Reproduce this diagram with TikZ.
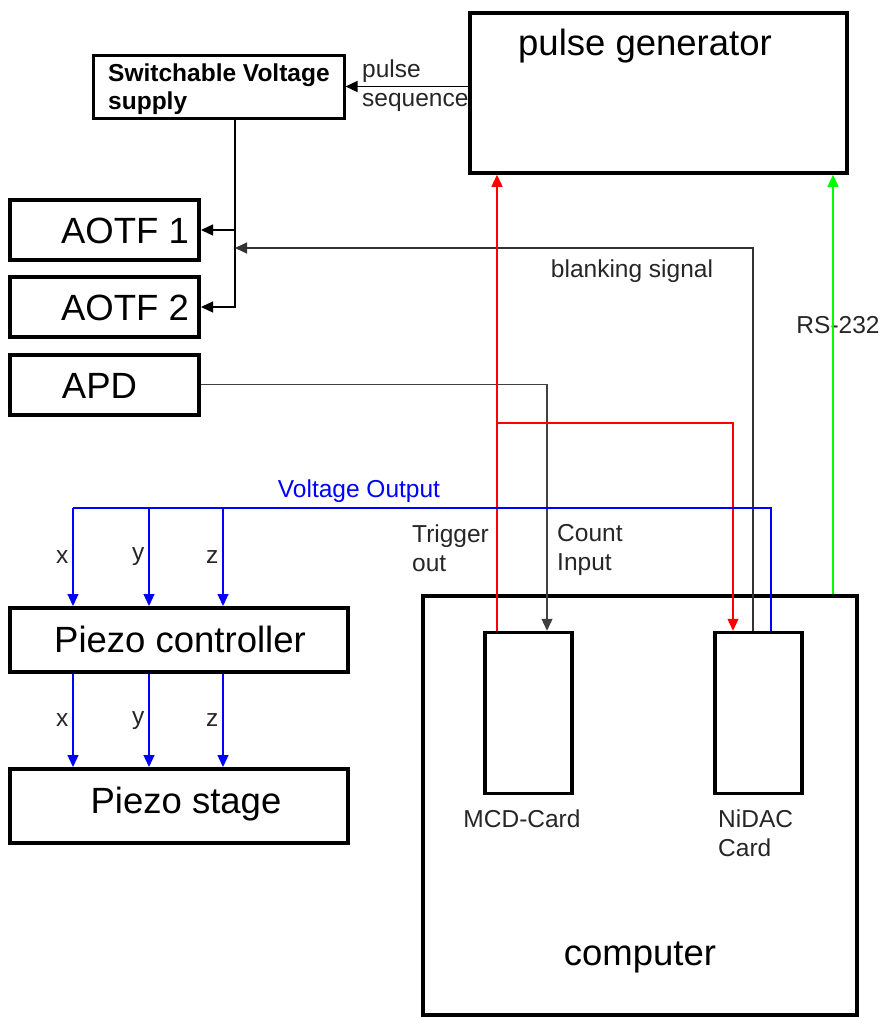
\documentclass[tikz,border=0pt]{standalone}
\usepackage{fontspec}
\setmainfont{Liberation Sans}
\usetikzlibrary{arrows.meta}

\begin{document}
\begin{tikzpicture}[x=1pt, y=-1pt,
  >={Triangle[length=12pt, width=11pt]},
  box/.style={draw, line width=3.5pt, inner sep=0pt},
  big/.style={font=\fontsize{36.5}{40}\selectfont, inner sep=0pt},
  small/.style={font=\fontsize{24.5}{28.5}\selectfont, text=black!85, inner sep=0pt},
  wire/.style={line width=1.3pt}]

  \useasboundingbox (0,0) rectangle (885,1017);

  % -- Boxes --
  \node[box, line width=3pt, minimum width=251pt, minimum height=63pt] (svs) at (218.5,86.5) {};
  \node[box, minimum width=377pt, minimum height=160pt] (pulsegen) at (658.5,93) {};
  \node[box, line width=4pt, minimum width=189pt, minimum height=60pt] (aotf1) at (104.5,230) {};
  \node[box, line width=4pt, minimum width=189pt, minimum height=60pt] (aotf2) at (104.5,307) {};
  \node[box, line width=4pt, minimum width=189pt, minimum height=60pt] (apd) at (104.5,384.5) {};
  \node[box, line width=4pt, minimum width=338pt, minimum height=64pt] (pc) at (179,640) {};
  \node[box, line width=4pt, minimum width=338pt, minimum height=74pt] (ps) at (179,806) {};
  \node[box, minimum width=434pt, minimum height=419pt] (computer) at (640,805.5) {};
  \node[box, minimum width=87pt, minimum height=161pt] (mcd) at (528.5,713) {};
  \node[box, minimum width=87pt, minimum height=161pt] (nidac) at (758.5,713) {};

  % -- Box texts --
  \node[small, anchor=west, align=left, font=\fontsize{24.5}{28}\selectfont\bfseries, text=black] (svstxt) at (108,89.5) {Switchable Voltage\\supply};
  \node[big, anchor=base] (pgtxt) at (645,55) {pulse generator};
  \node[big, anchor=base] (aotf1txt) at (125,243) {AOTF 1};
  \node[big, anchor=base] (aotf2txt) at (125,320) {AOTF 2};
  \node[big, anchor=base] (apdtxt) at (99.5,398) {APD};
  \node[big, anchor=base] (pctxt) at (180,652) {Piezo controller};
  \node[big, anchor=base] (pstxt) at (186,813) {Piezo stage};
  \node[big, anchor=base] (comptxt) at (640,965) {computer};
  \node[small, anchor=base] (mcdtxt) at (522,827) {MCD-Card};
  \node[small, anchor=west, align=left] (nidactxt) at (718,833) {NiDAC\\Card};

  % -- Signal labels --
  \node[small, anchor=west, align=left] (pulsetxt) at (362,85.6) {pulse\\sequence};
  \node[small, anchor=base] (blanktxt) at (632,277) {blanking signal};
  \node[small, anchor=base] (rstxt) at (838,333) {RS-232};
  \node[small, anchor=base, text=blue] (volttxt) at (359,497) {Voltage Output};
  \node[small, anchor=west, align=left] (trigtxt) at (412,548) {Trigger\\out};
  \node[small, anchor=west, align=left] (counttxt) at (557,550) {Count\\Input};

  % -- Junction points --
  \coordinate (bus) at (235,0);
  \coordinate (blank) at (753,248);
  \coordinate (count) at (547,0);
  \coordinate (trig) at (497,0);
  \coordinate (split) at (497,423);
  \coordinate (redin) at (733,0);
  \coordinate (rs) at (833,0);
  \coordinate (vl) at (73,508);
  \coordinate (vr) at (771,508);

  % -- AOTF supply --
  \draw[wire, ->] (svs.east -| pulsegen.west) -- (svs.east);
  \draw[wire, ->] (svs.south -| bus) |- (aotf2.east);
  \draw[wire, ->] (aotf1.east -| bus) -- (aotf1.east);
  \draw[wire, ->, black!80] (nidac.north -| blank) -- (blank) -- (blank -| bus);

  % -- Counting --
  \draw[wire, ->, black!75] (apd.east) -| (mcd.north -| count);

  % -- Trigger --
  \draw[wire, ->, red] (mcd.north -| trig) -- (pulsegen.south -| trig);
  \draw[wire, ->, red] (split) -| (nidac.north -| redin);

  % -- Serial link --
  \draw[wire, ->, green] (computer.north -| rs) -- (pulsegen.south -| rs);

  % -- Piezo voltages --
  \draw[wire, blue] (nidac.north -| vr) -- (vr) -- (vl);
  \foreach \ax/\lab in {73/x, 149/y, 223/z} {
    \coordinate (v\lab) at (\ax,508);
    \draw[wire, ->, blue] (v\lab) -- (pc.north -| v\lab)
      node[small, midway, left=4pt] (in\lab) {\lab};
    \draw[wire, ->, blue] (pc.south -| v\lab) -- (ps.north -| v\lab)
      node[small, midway, left=4pt] (out\lab) {\lab};
  }

\end{tikzpicture}
\end{document}
